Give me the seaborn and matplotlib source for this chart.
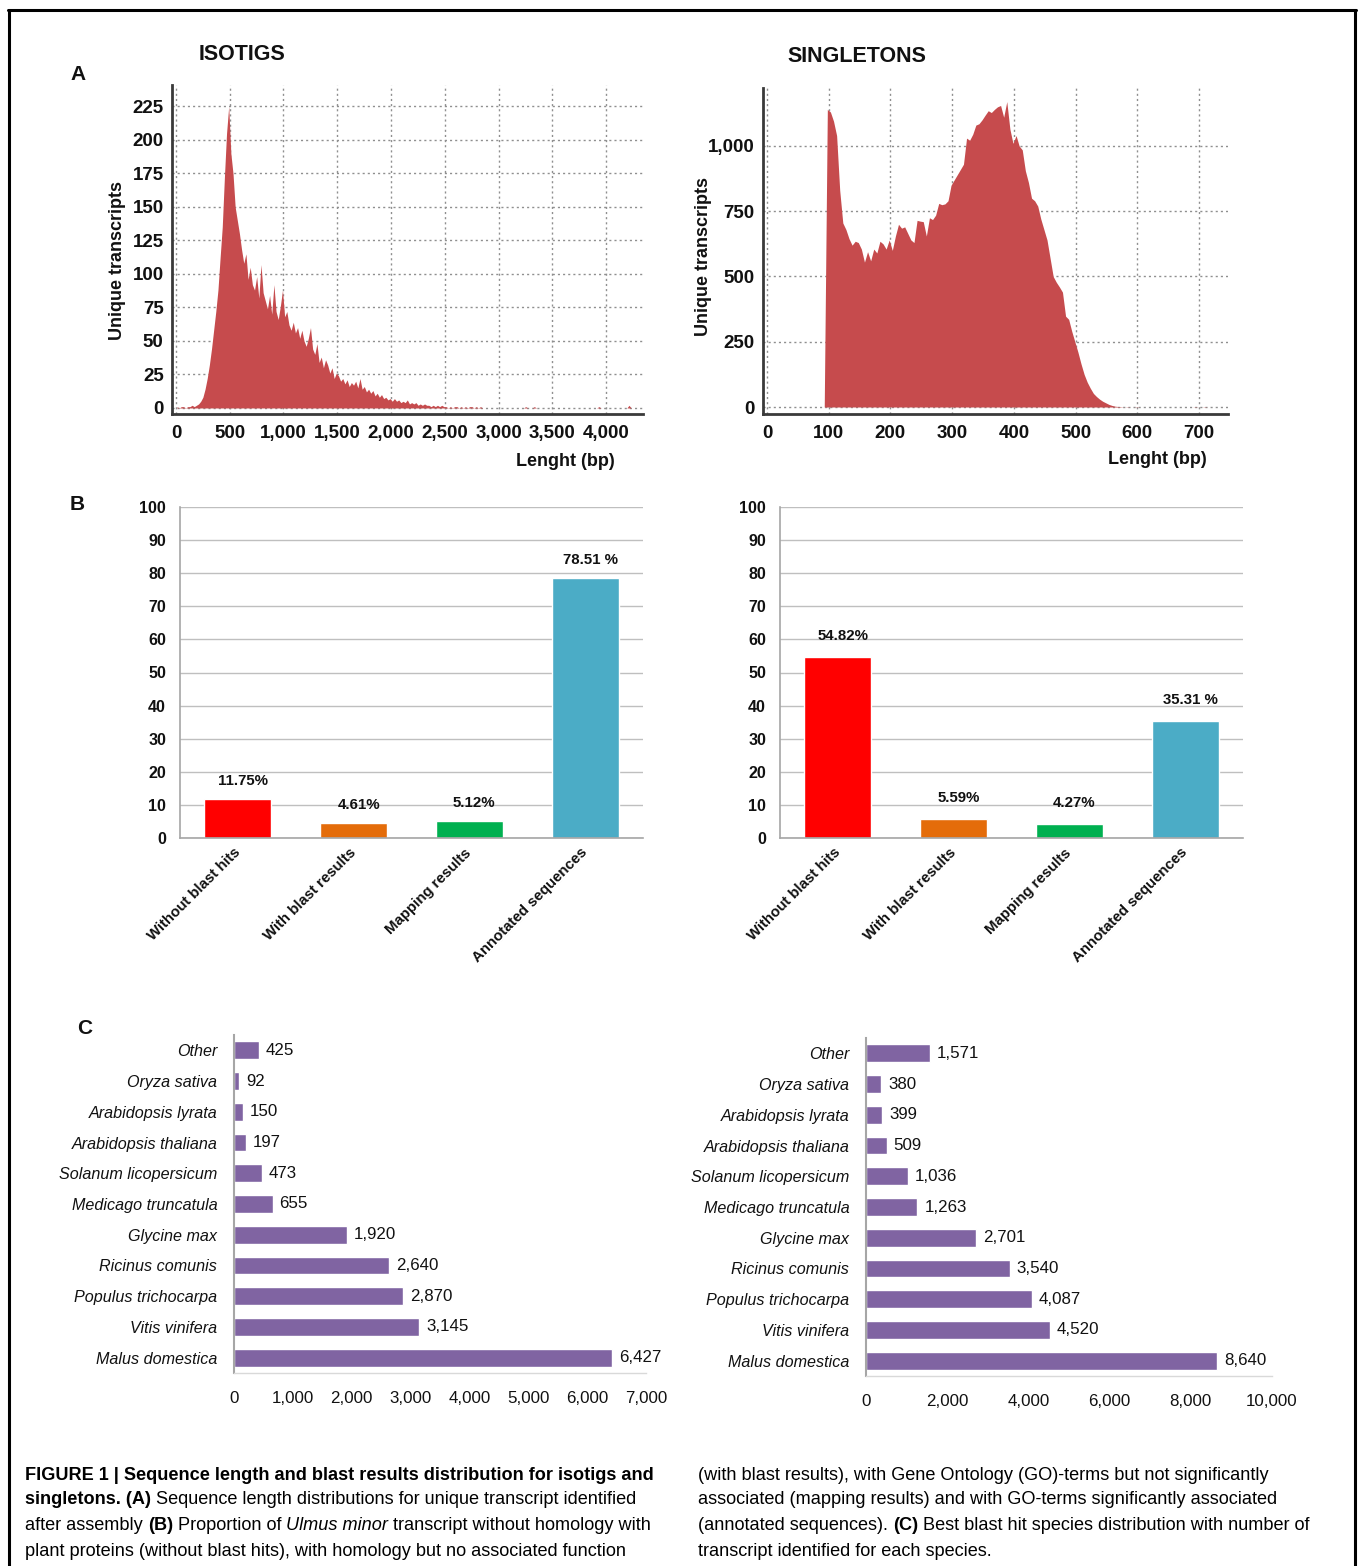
"""
Figure 1 recreation: sequence length distributions (A), blast result
proportions (B) and best blast hit species (C) for isotigs and singletons.
"""

import numpy as np
import matplotlib
matplotlib.use('Agg')
import matplotlib.pyplot as plt
import seaborn as sns
from matplotlib import font_manager
from matplotlib.font_manager import FontProperties
from matplotlib.lines import Line2D

# ---- 1. Data ----
# isotig length histogram, 20 bp bins starting at 0 bp
iso_step = 20
iso_counts = [
    1, 0, 1, 1, 0, 1, 1, 2, 1, 2,
    3, 5, 8, 14, 22, 32, 44, 58, 72, 88,
    112, 135, 172, 205, 225, 190, 175, 150, 140, 130,
    118, 108, 115, 96, 105, 92, 88, 98, 82, 107,
    86, 80, 74, 84, 70, 92, 72, 66, 76, 88,
    68, 72, 62, 58, 64, 56, 60, 52, 58, 50,
    46, 52, 60, 44, 40, 48, 34, 38, 30, 36,
    32, 26, 30, 22, 26, 24, 20, 22, 18, 21,
    16, 19, 17, 20, 15, 22, 14, 16, 12, 14,
    11, 13, 9, 11, 8, 10, 7, 8, 6, 7,
    5, 7, 5, 6, 4, 5, 4, 6, 3, 4,
    3, 4, 2, 3, 2, 3, 2, 2, 1, 2,
    1, 2, 1, 2, 1, 1, 0, 1, 0, 1,
    1, 0, 1, 0, 1, 0, 1, 1, 0, 1,
    0, 1,
]
iso_tail_len = [3250, 3330, 3930, 4210]
iso_tail_counts = [1, 1, 1, 2]

# singleton length histogram, 5 bp bins starting at 95 bp
sgl_step = 5
sgl_start = 95
sgl_counts = [
    1140, 1130, 1095, 1040, 830, 705, 680, 645, 620, 635,
    630, 605, 555, 595, 560, 605, 590, 635, 625, 605,
    640, 600, 655, 700, 685, 690, 665, 640, 630, 715,
    712, 710, 655, 725, 718, 735, 780, 775, 778, 790,
    850, 870, 890, 910, 930, 1030, 1022, 1045, 1080, 1085,
    1100, 1118, 1135, 1128, 1140, 1150, 1155, 1110, 1170, 1065,
    1010, 1040, 1000, 985, 905, 860, 800, 790, 770, 720,
    680, 640, 570, 500, 478, 460, 440, 348, 336, 290,
    250, 210, 165, 125, 95, 72, 52, 40, 30, 22,
    16, 10, 6, 3, 2, 1,
]
sgl_tail_len = [582, 597, 692, 707]
sgl_tail_counts = [1, 1, 1, 1]

blast_cats = ['Without blast hits', 'With blast results', 'Mapping results', 'Annotated sequences']
blast_colors = ['#FF0000', '#E46C0A', '#00B050', '#4BACC6']
iso_blast = [11.75, 4.61, 5.12, 78.51]
iso_blast_lbl = ['11.75%', '4.61%', '5.12%', '78.51 %']
sgl_blast = [54.82, 5.59, 4.27, 35.31]
sgl_blast_lbl = ['54.82%', '5.59%', '4.27%', '35.31 %']

species = ['Other', 'Oryza sativa', 'Arabidopsis lyrata', 'Arabidopsis thaliana',
           'Solanum licopersicum', 'Medicago truncatula', 'Glycine max',
           'Ricinus comunis', 'Populus trichocarpa', 'Vitis vinifera', 'Malus domestica']
iso_species = [425, 92, 150, 197, 473, 655, 1920, 2640, 2870, 3145, 6427]
sgl_species = [1571, 380, 399, 509, 1036, 1263, 2701, 3540, 4087, 4520, 8640]

# ---- 2. Style ----
sns.set_style('white')
installed = {f.name for f in font_manager.fontManager.ttflist}
BASE = 'Liberation Sans' if 'Liberation Sans' in installed else 'DejaVu Sans'
NARROW = 'Liberation Sans Narrow' if 'Liberation Sans Narrow' in installed else BASE
C_SIZE = 14 if NARROW != BASE else 11.6
C_NUM = 13.5 if NARROW != BASE else 12.2
plt.rcParams['font.family'] = [BASE, 'DejaVu Sans']
plt.rcParams['text.color'] = '#111111'
plt.rcParams['xtick.color'] = '#111111'
plt.rcParams['ytick.color'] = '#111111'

HIST_RED = '#C64B4D'
PURPLE = '#8064A2'

W, H = 1360, 1566
fig = plt.figure(figsize=(W / 100, H / 100), dpi=100)


def px_axes(l, t, r, b):
    return fig.add_axes([l / W, 1 - b / H, (r - l) / W, (b - t) / H])


def fig_text(x, y, s, **kw):
    return fig.text(x / W, 1 - y / H, s, **kw)


# ---- 3. Panel A: length distributions ----
def length_panel(box, lengths, counts, binw, xlim, ylim, xticks, yticks):
    ax = px_axes(*box)
    sns.histplot(x=lengths, weights=counts, binwidth=binw, binrange=(0, xlim[1]),
                 element='poly', fill=True, color=HIST_RED, alpha=1, linewidth=0, ax=ax)
    ax.set_xlim(*xlim)
    ax.set_ylim(*ylim)
    ax.set_xticks(xticks, labels=[f'{v:,}' for v in xticks], fontweight='bold')
    ax.set_yticks(yticks, labels=[f'{v:,}' for v in yticks], fontweight='bold')
    ax.grid(True, linestyle=(0, (1.5, 2.2)), color='#8f8f8f', linewidth=1)
    ax.set_axisbelow(True)
    for s in ['top', 'right']:
        ax.spines[s].set_visible(False)
    for s in ['left', 'bottom']:
        ax.spines[s].set_color('#3a3a3a')
        ax.spines[s].set_linewidth(2)
    ax.tick_params(direction='out', length=4, width=1.2, color='#3a3a3a', labelsize=13.5)
    ax.tick_params(axis='x', pad=4)
    ax.tick_params(axis='y', pad=2)
    ax.set_xlabel('')
    ax.set_ylabel('')
    return ax


iso_len = list(np.arange(len(iso_counts)) * iso_step + iso_step / 2) + iso_tail_len
sgl_len = list(np.arange(len(sgl_counts)) * sgl_step + sgl_start + sgl_step / 2) + sgl_tail_len

length_panel((172, 85, 643, 414), iso_len, iso_counts + iso_tail_counts, iso_step,
             (-37, 4344), (-4.5, 241), list(range(0, 4001, 500)), list(range(0, 226, 25)))
length_panel((763, 88, 1228, 414), sgl_len, sgl_counts + sgl_tail_counts, sgl_step,
             (-6.5, 747), (-26.8, 1222), list(range(0, 701, 100)), list(range(0, 1001, 250)))

fig_text(242, 54, 'ISOTIGS', fontsize=15.5, fontweight='bold', ha='center', va='center')
fig_text(857, 57, 'SINGLETONS', fontsize=15.5, fontweight='bold', ha='center', va='center')
for x, y in [(117, 260), (703, 257)]:
    fig_text(x, y, 'Unique transcripts', fontsize=13, fontweight='bold',
             rotation=90, ha='center', va='center')
for x, y in [(565, 462), (1157, 459)]:
    fig_text(x, y, 'Lenght (bp)', fontsize=13, fontweight='bold', ha='center', va='center')


# ---- 4. Panel B: blast result proportions ----
def blast_panel(box, vals, labels, offset):
    ax = px_axes(*box)
    sns.barplot(x=blast_cats, y=vals, hue=blast_cats, palette=blast_colors, legend=False,
                saturation=1, width=0.58, ax=ax)
    ax.set_ylim(0, 100)
    ax.set_yticks(list(range(0, 101, 10)), labels=[str(v) for v in range(0, 101, 10)],
                  fontweight='bold')
    ax.set_xticks(range(len(blast_cats)), labels=blast_cats, fontweight='bold',
                  rotation=45, ha='right', va='center', rotation_mode='anchor')
    ax.yaxis.grid(True, color='#BFBFBF', linewidth=1)
    ax.set_axisbelow(True)
    for s in ['top', 'right']:
        ax.spines[s].set_visible(False)
    for s in ['left', 'bottom']:
        ax.spines[s].set_color('#A6A6A6')
        ax.spines[s].set_linewidth(1.2)
    ax.tick_params(length=0)
    ax.tick_params(axis='y', labelsize=11.5, pad=10)
    ax.tick_params(axis='x', labelsize=10.8, pad=9)
    for i, (v, lbl) in enumerate(zip(vals, labels)):
        ax.annotate(lbl, (i, v), xytext=(5, offset), textcoords='offset pixels',
                    ha='center', va='center', fontsize=10.8, fontweight='bold')
    ax.set_xlabel('')
    ax.set_ylabel('')
    return ax


blast_panel((180, 507, 643, 838), iso_blast, iso_blast_lbl, 18)
blast_panel((780, 507, 1243, 838), sgl_blast, sgl_blast_lbl, 21)


# ---- 5. Panel C: best blast hit species ----
def species_panel(box, vals, xmax, xstep):
    ax = px_axes(*box)
    sns.barplot(x=vals, y=species, orient='h', color=PURPLE, saturation=1, width=0.58, ax=ax)
    ax.set_xlim(0, xmax)
    ticks = list(range(0, xmax + 1, xstep))
    ax.set_xticks(ticks, labels=[f'{t:,}' for t in ticks], fontfamily=NARROW)
    ax.set_yticks(range(len(species)), labels=species, fontfamily=NARROW, fontstyle='italic')
    ax.tick_params(length=0)
    ax.tick_params(axis='x', pad=13, labelsize=C_NUM)
    ax.tick_params(axis='y', pad=12, labelsize=C_SIZE)
    for i, v in enumerate(vals):
        ax.annotate(f'{v:,}', (v, i), xytext=(7, 0), textcoords='offset pixels',
                    ha='left', va='center', fontsize=C_NUM, fontfamily=NARROW)
    for s in ['top', 'right']:
        ax.spines[s].set_visible(False)
    ax.spines['left'].set_color('#A6A6A6')
    ax.spines['left'].set_linewidth(1.5)
    ax.spines['bottom'].set_color('#D9D9D9')
    ax.spines['bottom'].set_linewidth(1)
    ax.set_xlabel('')
    ax.set_ylabel('')
    return ax


species_panel((234, 1035, 646, 1373), iso_species, 7000, 1000)
species_panel((866, 1038, 1272, 1376), sgl_species, 10000, 2000)

# panel letters
for x, y, s in [(78, 74, 'A'), (77, 504, 'B'), (85, 1029, 'C')]:
    fig_text(x, y, s, fontsize=15, fontweight='bold', ha='center', va='center')

# frame round the figure
for xs, ys in [((8, 1356), (10, 10)), ((9, 9), (10, 1566)), ((1355, 1355), (10, 1566))]:
    fig.add_artist(Line2D([x / W for x in xs], [1 - y / H for y in ys],
                          color='black', linewidth=2.2))

# ---- 6. Caption ----
cap_left = [
    [('FIGURE 1 | Sequence length and blast results distribution for isotigs and', 'b')],
    [('singletons. (A)', 'b'), (' Sequence length distributions for unique transcript identified', '')],
    [('after assembly ', ''), ('(B)', 'b'), (' Proportion of ', ''), ('Ulmus minor', 'i'),
     (' transcript without homology with', '')],
    [('plant proteins (without blast hits), with homology but no associated function', '')],
]
cap_right = [
    [('(with blast results), with Gene Ontology (GO)-terms but not significantly', '')],
    [('associated (mapping results) and with GO-terms significantly associated', '')],
    [('(annotated sequences). ', ''), ('(C)', 'b'),
     (' Best blast hit species distribution with number of', '')],
    [('transcript identified for each species.', '')],
]
CAP_SIZE = 13.1
renderer = fig.canvas.get_renderer()


def text_width(s, prop):
    w1 = renderer.get_text_width_height_descent('x' + s + 'x', prop, ismath=False)[0]
    w0 = renderer.get_text_width_height_descent('xx', prop, ismath=False)[0]
    return w1 - w0


def rich_line(x, y, parts):
    for txt, style in parts:
        prop = FontProperties(family=BASE, size=CAP_SIZE,
                              weight='bold' if 'b' in style else 'normal',
                              style='italic' if 'i' in style else 'normal')
        fig_text(x, y, txt, fontproperties=prop, ha='left', va='center', color='black')
        x += text_width(txt, prop)


for k, yl in enumerate([1475, 1500, 1525, 1551]):
    rich_line(25, yl, cap_left[k])
    rich_line(698, yl, cap_right[k])

fig.savefig('out.png', dpi=100, facecolor='white')
